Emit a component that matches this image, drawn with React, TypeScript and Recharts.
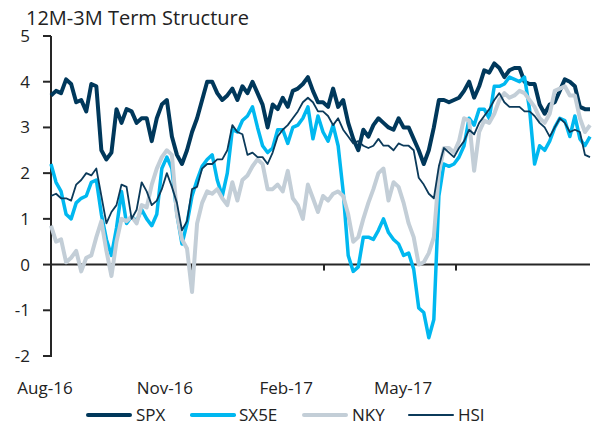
import { LineChart, Line, XAxis, YAxis } from "recharts";

// daily-ish samples, Aug-16 .. Aug-17
const spx = [
  3.7, 3.8, 3.75, 4.05, 3.95, 3.55, 3.6, 3.35, 3.95, 3.9,
  2.5, 2.3, 2.45, 3.4, 3.1, 3.4, 3.35, 3.1, 3.2, 3.2,
  2.7, 3.2, 3.5, 3.6, 2.8, 2.4, 2.2, 2.5, 2.9, 3.2,
  3.6, 4.0, 4.0, 3.75, 3.6, 3.7, 3.85, 3.6, 3.9, 3.75,
  4.0, 3.75, 3.5, 3.0, 3.5, 3.4, 3.65, 3.45, 3.8, 3.85,
  3.95, 4.1, 3.8, 3.55, 3.55, 3.45, 3.85, 3.45, 3.6, 3.1,
  2.75, 2.5, 2.95, 2.8, 3.05, 3.2, 3.1, 3.0, 2.95, 3.2,
  3.0, 3.0, 2.75, 2.5, 2.2, 2.5, 3.0, 3.6, 3.6, 3.55,
  3.6, 3.65, 3.8, 4.0, 3.65, 3.9, 4.25, 4.2, 4.4, 4.3,
  4.1, 4.25, 4.3, 4.3, 4.0, 3.95, 3.95, 3.5, 3.3, 3.5,
  3.55, 3.8, 4.05, 4.0, 3.9, 3.45, 3.4, 3.4,
];

const sx5e = [
  2.2, 1.8, 1.6, 1.1, 1.0, 1.35, 1.45, 1.5, 1.8, 1.85,
  1.1, 0.55, 0.2, 0.8, 1.6, 0.9, 1.05, 0.95, 1.2, 1.0,
  0.85, 1.1, 2.1, 2.35, 2.1, 1.1, 0.45, 0.9, 1.5, 1.85,
  2.15, 2.3, 2.4, 1.85, 1.5, 2.0, 2.95, 2.9, 3.15, 3.25,
  3.45, 3.0, 2.6, 2.45, 2.55, 2.95, 2.95, 2.65, 3.0, 3.05,
  3.2, 3.45, 2.75, 3.25, 2.9, 2.7, 3.05, 2.6, 1.6, 0.2,
  -0.15, -0.05, 0.6, 0.6, 0.55, 0.75, 1.0, 0.7, 0.55, 0.45,
  0.2, 0.25, -0.1, -0.95, -1.05, -1.6, -1.2, 1.5, 2.2, 2.15,
  2.2, 2.35, 2.6, 3.2, 3.05, 3.4, 3.4, 3.2, 3.9, 3.9,
  3.95, 4.1, 4.05, 4.0, 4.1, 3.4, 2.2, 2.6, 2.5, 2.7,
  3.0, 3.2, 3.15, 2.8, 3.25, 2.75, 2.6, 2.8,
];

const nky = [
  0.85, 0.5, 0.55, 0.05, 0.15, 0.3, -0.15, 0.15, 0.2, 0.6,
  0.95, 0.3, -0.25, 0.5, 1.0, 0.95, 1.05, 0.9, 1.3, 1.25,
  1.75, 2.1, 2.35, 2.5, 2.4, 1.1, 0.55, 0.35, -0.6, 0.9,
  1.35, 1.6, 1.55, 1.65, 1.45, 1.3, 1.8, 1.4, 1.85, 1.95,
  2.15, 2.3, 2.2, 1.65, 1.65, 1.75, 1.6, 2.05, 1.45, 1.3,
  1.0, 1.75, 1.45, 1.15, 1.5, 1.4, 1.55, 1.6, 1.5, 1.1,
  0.5, 0.6, 1.0, 1.35, 1.65, 2.0, 2.1, 1.4, 1.8, 1.7,
  1.35, 0.9, 0.6, 0.0, 0.05, 0.25, 0.6, 2.0, 2.55, 2.55,
  2.45, 2.7, 3.2, 3.15, 2.05, 2.9, 3.15, 3.1, 3.3, 3.6,
  3.75, 3.65, 3.7, 3.8, 3.75, 3.6, 3.45, 3.2, 3.1, 3.3,
  3.8, 3.85, 3.9, 3.7, 3.7, 3.2, 2.9, 3.05,
];

const hsi = [
  1.5, 1.55, 1.45, 1.45, 1.4, 1.75, 1.85, 2.0, 1.95, 2.1,
  1.5, 0.9, 1.15, 1.3, 1.75, 1.7, 1.0, 1.2, 1.8, 1.6,
  1.3, 1.4, 1.65, 2.0, 1.7, 1.35, 0.75, 0.95, 1.65, 1.7,
  2.1, 2.2, 2.2, 2.3, 2.3, 2.5, 3.05, 2.9, 2.85, 2.4,
  2.45, 2.35, 2.35, 2.2, 2.45, 2.8, 2.95, 3.05, 3.2, 3.35,
  3.55, 3.65, 3.55, 3.35, 3.35, 3.25, 3.05, 3.2, 2.95, 2.8,
  2.65, 2.7, 2.6, 2.55, 2.6, 2.75, 2.6, 2.6, 2.5, 2.65,
  2.6, 2.6, 2.5, 1.9, 1.75, 1.55, 1.45, 2.15, 2.55, 2.45,
  2.35, 2.55, 2.7, 2.95, 2.85, 3.1, 3.25, 3.4, 3.6, 3.75,
  3.55, 3.45, 3.45, 3.45, 3.35, 3.35, 3.25, 3.1, 3.0, 2.8,
  3.0, 3.2, 3.1, 2.9, 2.95, 2.9, 2.4, 2.35,
];

const xLabels = ["Aug-16", "Nov-16", "Feb-17", "May-17"];
const xLabelPos = [0, 22.6, 46.7, 69.9];
const zeroTicks = [28, 54.2, 80.4];
const yTicks = [-2, -1, 0, 1, 2, 3, 4, 5];

const data = spx.map((v, i) => ({
  i,
  spx: v,
  sx5e: sx5e[i],
  nky: nky[i],
  hsi: hsi[i],
}));

const W = 592;
const H = 423;
const X_MIN = 0;
const X_MAX = 107;
const Y_MIN = yTicks[0];
const Y_MAX = yTicks[yTicks.length - 1];
const Y_AXIS_W = 51;
const X_AXIS_H = 30;
const MARGIN = { top: 36, right: 2, bottom: 37, left: 0 };
const PLOT_L = MARGIN.left + Y_AXIS_W;
const PLOT_R = W - MARGIN.right;
const PLOT_T = MARGIN.top;
const PLOT_B = H - MARGIN.bottom - X_AXIS_H;
const sx = (v: number) => PLOT_L + ((v - X_MIN) / (X_MAX - X_MIN)) * (PLOT_R - PLOT_L);
const sy = (v: number) => PLOT_T + ((Y_MAX - v) / (Y_MAX - Y_MIN)) * (PLOT_B - PLOT_T);

const FONT = "'Open Sans', 'Noto Sans', sans-serif";
const TEXT = "#222222";
const AXIS = "#262626";

const series = [
  { key: "spx", label: "SPX", color: "#00385B", width: 4 },
  { key: "sx5e", label: "SX5E", color: "#00B8F0", width: 3.5 },
  { key: "nky", label: "NKY", color: "#C3CED7", width: 4 },
  { key: "hsi", label: "HSI", color: "#0B3A5A", width: 1.8 },
];

const legendPos = [
  { x: 86, tx: 136 },
  { x: 190, tx: 239 },
  { x: 302, tx: 352 },
  { x: 408, tx: 458 },
];

function XTick({ x, y, payload }: any) {
  const idx = xLabelPos.indexOf(payload.value);
  return (
    <text
      x={x + (idx === 0 ? -6 : 0)}
      y={y + 38}
      textAnchor="middle"
      fill={TEXT}
      fontSize={17}
      fontFamily={FONT}
    >
      {xLabels[idx]}
    </text>
  );
}

export default function App() {
  return (
    <div
      style={{
        position: "absolute",
        left: 0,
        top: 0,
        width: W,
        height: H,
        overflow: "hidden",
        fontFamily: FONT,
        color: TEXT,
      }}
    >
      {/* axis frame, painted under the chart's series */}
      <svg
        width={W}
        height={H}
        style={{ position: "absolute", left: 0, top: 0 }}
      >
        <line x1={PLOT_L} x2={PLOT_L} y1={PLOT_T} y2={PLOT_B + 1} stroke={AXIS} strokeWidth={2} />
        {yTicks.map((t) => (
          <line key={t} x1={PLOT_L - 8} x2={PLOT_L} y1={sy(t)} y2={sy(t)} stroke={AXIS} strokeWidth={2} />
        ))}
        <line x1={PLOT_L} x2={PLOT_R} y1={sy(0)} y2={sy(0)} stroke={AXIS} strokeWidth={2} />
        {zeroTicks.map((t) => (
          <line key={t} x1={sx(t)} x2={sx(t)} y1={sy(0)} y2={sy(0) + 6} stroke={AXIS} strokeWidth={2} />
        ))}
      </svg>
      <div
        style={{
          position: "absolute",
          left: 26,
          top: 8,
          fontSize: 20,
          lineHeight: "20px",
          whiteSpace: "nowrap",
        }}
      >
        12M-3M Term Structure
      </div>
      <LineChart width={W} height={H} data={data} margin={MARGIN}>
        <XAxis
          dataKey="i"
          type="number"
          domain={[X_MIN, X_MAX]}
          ticks={xLabelPos}
          interval={0}
          axisLine={false}
          tickLine={false}
          tickSize={0}
          tickMargin={0}
          height={X_AXIS_H}
          tick={<XTick />}
        />
        <YAxis
          domain={[Y_MIN, Y_MAX]}
          ticks={yTicks}
          interval={0}
          width={Y_AXIS_W}
          tickSize={8}
          tickMargin={13}
          axisLine={false}
          tickLine={false}
          tick={{ fill: TEXT, fontSize: 17, fontFamily: FONT }}
        />
        {series.map((s) => (
          <Line
            key={s.key}
            dataKey={s.key}
            type="linear"
            stroke={s.color}
            strokeWidth={s.width}
            strokeLinejoin="round"
            dot={false}
            activeDot={false}
            isAnimationActive={false}
          />
        ))}
      </LineChart>
      {series.map((s, k) => (
        <div key={s.key}>
          <div
            style={{
              position: "absolute",
              left: legendPos[k].x,
              top: 415 - s.width / 2,
              width: 46,
              height: s.width,
              borderRadius: s.width / 2,
              background: s.color,
            }}
          />
          <div
            style={{
              position: "absolute",
              left: legendPos[k].tx,
              top: 406,
              fontSize: 17,
              lineHeight: "17px",
              whiteSpace: "nowrap",
            }}
          >
            {s.label}
          </div>
        </div>
      ))}
    </div>
  );
}
